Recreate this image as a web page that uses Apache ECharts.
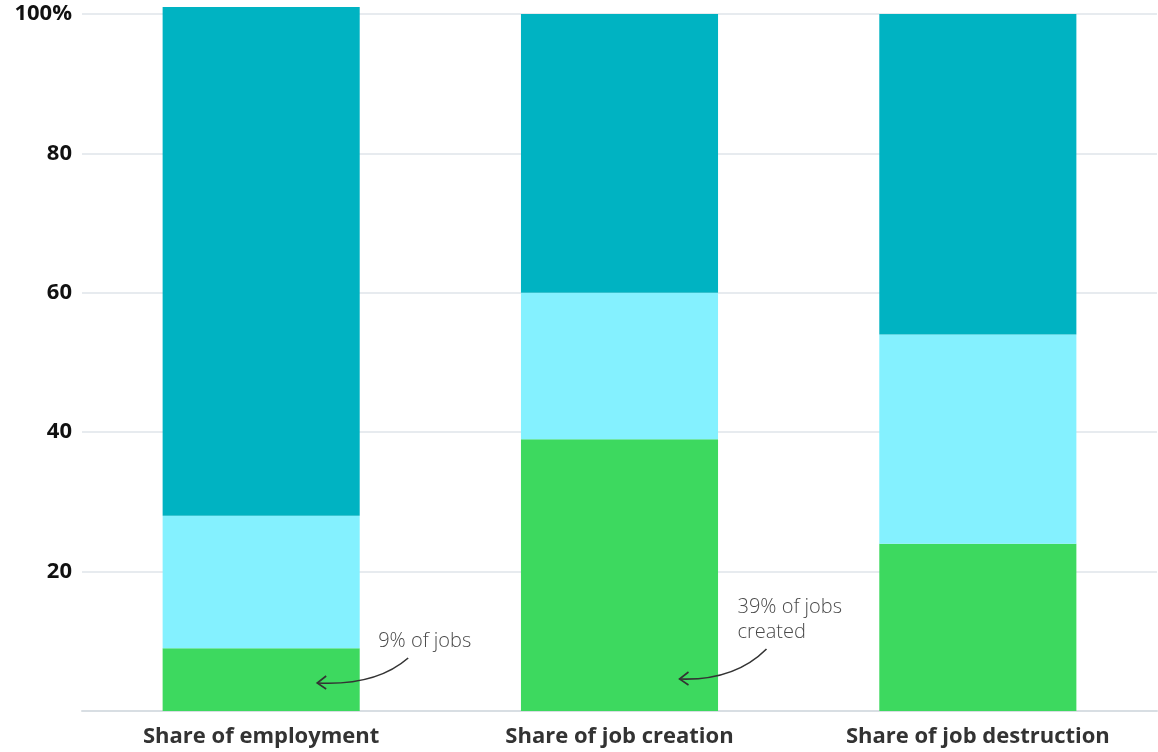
<!DOCTYPE html>
<html><head><meta charset="utf-8">
<script src="https://cdn.jsdelivr.net/npm/echarts@6/dist/echarts.min.js"></script>
<style>html,body{margin:0;padding:0;background:#fff}#c{width:1158px;height:752px}</style>
</head><body><div id="c"></div>
<script>
const categories = ['Share of employment', 'Share of job creation', 'Share of job destruction'];
const greenValues = [9, 39, 24];
const lightValues = [19, 21, 30];
const darkValues = [73, 40, 46];
const yTicks = [0, 20, 40, 60, 80, 100];

const chart = echarts.init(document.getElementById('c'), null, {renderer: 'canvas'});
const font = '"Open Sans", "Noto Sans", sans-serif';
const mk = (name, data, color) => ({
  name, type: 'bar', stack: 's', data, barWidth: '55%', clip: false,
  itemStyle: {color}, emphasis: {disabled: true}
});
chart.setOption({
  animation: false,
  grid: {left: 82, right: 1, top: 14, bottom: 41, containLabel: false},
  xAxis: {
    type: 'category', data: categories,
    axisLine: {lineStyle: {color: '#d8dee3', width: 2}},
    axisTick: {show: false},
    axisLabel: {color: '#333', fontFamily: font, fontWeight: 'bold', fontSize: 22, margin: 15}
  },
  yAxis: {
    type: 'value', min: yTicks[0], max: yTicks[yTicks.length - 1], interval: 20,
    axisLine: {show: false}, axisTick: {show: false},
    splitLine: {lineStyle: {color: '#dfe5ea', width: 1.5}},
    axisLabel: {
      color: '#111', fontFamily: font, fontWeight: 'bold', fontSize: 22, margin: 10,
      formatter: v => v === 0 ? '' : (v === 100 ? '100%' : String(v))
    }
  },
  series: [
    mk('Green', greenValues, '#3dd95f'),
    mk('Light', lightValues, '#84f1ff'),
    mk('Dark', darkValues, '#00b3c2')
  ]
});

function px(i, v) { return chart.convertToPixel({xAxisIndex: 0, yAxisIndex: 0}, [i, v]); }
const a0 = px(0, 0), a1 = px(1, 0);
function arrow(cx, by, sx, sy, ex, ey, cpx, cpy) {
  return [
    {type: 'bezierCurve', z: 100, shape: {x1: cx + sx, y1: by + sy, x2: cx + ex, y2: by + ey, cpx1: cx + cpx, cpy1: by + cpy},
     style: {stroke: '#333', lineWidth: 1.6, fill: null}},
    {type: 'polyline', z: 100, shape: {points: [[cx + ex + 9, by + ey - 7], [cx + ex, by + ey], [cx + ex + 9, by + ey + 6]]},
     style: {stroke: '#333', lineWidth: 1.6, fill: null}}
  ];
}
const txtStyle = {fill: '#4a4a4a', font: '300 20px ' + font};
chart.setOption({
  graphic: [
    {type: 'text', z: 100, x: a0[0] + 117, y: a0[1] - 80, style: Object.assign({text: '9% of jobs'}, txtStyle)},
    ...arrow(a0[0], a0[1], 147, -53, 56, -28, 115, -25),
    {type: 'text', z: 100, x: a1[0] + 118, y: a1[1] - 116, style: Object.assign({text: '39% of jobs\ncreated', lineHeight: 25}, txtStyle)},
    ...arrow(a1[0], a1[1], 147, -62, 60, -32, 115, -30)
  ]
});
</script></body></html>
